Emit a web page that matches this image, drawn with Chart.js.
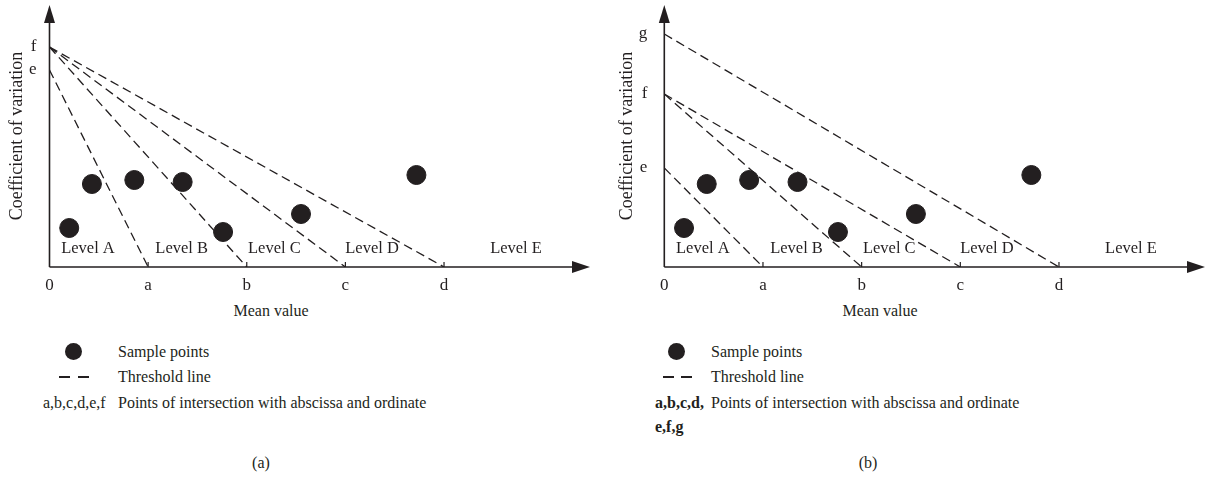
<!DOCTYPE html>
<html>
<head>
<meta charset="utf-8">
<script src="https://cdn.jsdelivr.net/npm/chart.js@4"></script>
<style>
body { margin: 0; background: #fff; }
#wrap { position: relative; width: 1207px; height: 478px; font-family: "Liberation Serif", serif; color: #231f20; }
canvas { position: absolute; top: 0; }
.t { position: absolute; font-size: 16px; line-height: 1; white-space: nowrap; transform: translateY(-50%); }
.c { transform: translate(-50%, -50%); }
.dot { position: absolute; width: 17px; height: 17px; border-radius: 50%; background: #231f20; }
.dash { position: absolute; width: 11px; height: 2px; background: #231f20; }
b { font-weight: bold; }
</style>
</head>
<body>
<div id="wrap">
  <canvas id="chartA" width="603" height="300" style="left:0"></canvas>
  <canvas id="chartB" width="604" height="300" style="left:603px"></canvas>

  <!-- legend (a) -->
  <div class="t c" style="left:271px; top:311px;">Mean value</div>
  <div class="dot" style="left:65px; top:343px;"></div>
  <div class="t" style="left:118px; top:352px;">Sample points</div>
  <div class="dash" style="left:59px; top:376px;"></div>
  <div class="dash" style="left:78px; top:376px;"></div>
  <div class="t" style="left:118px; top:377px;">Threshold line</div>
  <div class="t" style="left:43px; top:403px;">a,b,c,d,e,f</div>
  <div class="t" style="left:118px; top:403px;">Points of intersection with abscissa and ordinate</div>
  <div class="t c" style="left:261px; top:463px;">(a)</div>

  <!-- legend (b) -->
  <div class="t c" style="left:880px; top:311px;">Mean value</div>
  <div class="dot" style="left:668px; top:343px;"></div>
  <div class="t" style="left:711px; top:352px;">Sample points</div>
  <div class="dash" style="left:663px; top:376px;"></div>
  <div class="dash" style="left:681px; top:376px;"></div>
  <div class="t" style="left:711px; top:377px;">Threshold line</div>
  <div class="t" style="left:655px; top:403px;"><b>a,b,c,d,</b></div>
  <div class="t" style="left:655px; top:427px;"><b>e,f,g</b></div>
  <div class="t" style="left:711px; top:403px;">Points of intersection with abscissa and ordinate</div>
  <div class="t c" style="left:868px; top:463px;">(b)</div>
</div>

<script>
// ==============================
// Data
// ==============================

const tickNames = ["0", "a", "b", "c", "d"];
const tickValues = [0, 1, 2, 3, 4];

const sampleX = [0.2, 0.43, 0.86, 1.35, 1.76, 2.55, 3.72];
const sampleY = [3.9, 8.3, 8.7, 8.5, 3.5, 5.3, 9.2];

const levelNames = ["Level A", "Level B", "Level C", "Level D", "Level E"];
const levelX = [0.39, 1.34, 2.28, 3.27, 4.73];
const levelY = 1.8;

// panel (a)
const interceptNamesA = ["e", "f"];
const interceptValuesA = [19.7, 22];
const lineStartA = [19.7, 22, 22, 22];
const lineEndA = [1, 2, 3, 4];

// panel (b)
const interceptNamesB = ["e", "f", "g"];
const interceptValuesB = [9.9, 17.3, 23.3];
const lineStartB = [9.9, 17.3, 17.3, 23.3];
const lineEndB = [1, 2, 3, 4];

const xMax = 5.48;
const yMax = 26.2;

const ink = "#231f20";
const serif = "'Liberation Serif', serif";

// ==============================
// Axes with arrows + level labels
// ==============================

const axesPlugin = {
    id: "arrowAxes",
    afterDatasetsDraw(chart) {
        const ctx = chart.ctx;
        const x = chart.scales.x;
        const y = chart.scales.y;
        const x0 = x.getPixelForValue(0);
        const y0 = y.getPixelForValue(0);
        const xEnd = x.getPixelForValue(xMax);
        const yEnd = y.getPixelForValue(yMax);

        ctx.save();
        ctx.strokeStyle = ink;
        ctx.fillStyle = ink;
        ctx.lineWidth = 1.6;

        ctx.beginPath();
        ctx.moveTo(x0, y0);
        ctx.lineTo(xEnd - 14, y0);
        ctx.moveTo(x0, y0);
        ctx.lineTo(x0, yEnd + 14);
        ctx.stroke();

        // tick marks pointing up
        ctx.lineWidth = 1.2;
        ctx.beginPath();
        tickValues.slice(1).forEach(v => {
            const px = x.getPixelForValue(v);
            ctx.moveTo(px, y0);
            ctx.lineTo(px, y0 - 5);
        });
        ctx.stroke();

        // arrow heads
        ctx.beginPath();
        ctx.moveTo(xEnd, y0);
        ctx.lineTo(xEnd - 18, y0 - 6);
        ctx.lineTo(xEnd - 18, y0 + 6);
        ctx.closePath();
        ctx.fill();

        ctx.beginPath();
        ctx.moveTo(x0, yEnd);
        ctx.lineTo(x0 - 5.5, yEnd + 18);
        ctx.lineTo(x0 + 5.5, yEnd + 18);
        ctx.closePath();
        ctx.fill();

        // level labels
        ctx.font = "16.5px " + serif;
        ctx.textAlign = "center";
        ctx.textBaseline = "middle";
        levelNames.forEach((name, i) => {
            ctx.fillText(name, x.getPixelForValue(levelX[i]), y.getPixelForValue(levelY));
        });

        ctx.restore();
    }
};

// ==============================
// Chart builder
// ==============================

function makeChart(id, names, values, starts, ends, yWidth, titlePad, rightPad, tickPad) {

    const datasets = [{
        type: "scatter",
        data: sampleX.map((v, i) => ({ x: v, y: sampleY[i] })),
        backgroundColor: ink,
        borderColor: ink,
        pointRadius: 9.5,
        order: 0
    }];

    starts.forEach((s, i) => {
        datasets.push({
            type: "line",
            data: [{ x: 0, y: s }, { x: ends[i], y: 0 }],
            borderColor: ink,
            borderWidth: 1.3,
            borderDash: [9, 5],
            pointRadius: 0,
            fill: false,
            order: 1
        });
    });

    return new Chart(document.getElementById(id), {
        data: { datasets: datasets },
        options: {
            responsive: false,
            animation: false,
            layout: {
                autoPadding: false,
                padding: { top: 5, right: rightPad, bottom: 0, left: 0 }
            },
            plugins: { legend: { display: false }, tooltip: { enabled: false } },
            scales: {
                x: {
                    type: "linear",
                    min: 0,
                    max: xMax,
                    grid: { display: false },
                    border: { display: false },
                    afterBuildTicks: scale => {
                        scale.ticks = tickValues.map(v => ({ value: v }));
                    },
                    afterFit: scale => {
                        scale.height = 33;
                        scale.paddingLeft = 0;
                        scale.paddingRight = 0;
                    },
                    ticks: {
                        padding: 0,
                        color: ink,
                        font: { family: serif, size: 17 },
                        callback: (v) => tickNames[tickValues.indexOf(v)]
                    }
                },
                y: {
                    type: "linear",
                    min: 0,
                    max: yMax,
                    grid: { display: false },
                    border: { display: false },
                    afterBuildTicks: scale => {
                        scale.ticks = values.map(v => ({ value: v }));
                    },
                    afterFit: scale => {
                        scale.width = yWidth;
                        scale.paddingTop = 0;
                        scale.paddingBottom = 0;
                    },
                    ticks: {
                        padding: tickPad,
                        color: ink,
                        font: { family: serif, size: 17 },
                        callback: (v) => names[values.indexOf(v)]
                    },
                    title: {
                        display: true,
                        text: "Coefficient of variation",
                        color: ink,
                        font: { family: serif, size: 18 },
                        padding: { top: titlePad, bottom: 0 }
                    }
                }
            }
        },
        plugins: [axesPlugin]
    });
}

makeChart("chartA", interceptNamesA, interceptValuesA, lineStartA, lineEndA, 49.5, 6, 13, 5);
makeChart("chartB", interceptNamesB, interceptValuesB, lineStartB, lineEndB, 61.3, 13, 2, 9);
</script>
</body>
</html>
